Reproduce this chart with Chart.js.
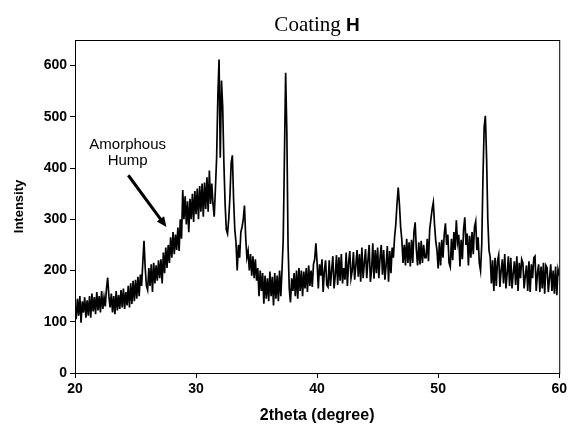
<!DOCTYPE html>
<html lang="en">
<head>
  <meta charset="UTF-8">
  <title>Coating H</title>
  <script src="https://cdn.jsdelivr.net/npm/chart.js@4.4.1/dist/chart.umd.min.js"></script>
  <style>
    body { margin: 0; background: #fff; }
    #wrap { width: 570px; height: 431px; }
  </style>
</head>
<body>
<div id="wrap"><canvas id="myChart"></canvas></div>

<script>
    // scan settings: 2theta from 20 to 60 degrees, one reading every 0.1 degree
    const angleStart = 20;
    const angleStep = 0.1;

    // intensity, one row per degree (20.0 .. 59.9), then 60.0
    const intensity = [
      135,105,145,112,150,98,140,118,148,108,
      142,112,150,108,155,120,148,115,158,122,
      150,118,160,125,148,130,165,186,150,128,
      155,118,150,115,160,122,152,125,162,128,
      165,125,158,132,170,128,175,135,180,140,
      182,145,188,150,192,170,215,258,205,170,
      162,205,170,212,158,215,175,210,180,220,
      185,222,175,235,195,245,205,250,215,265,
      225,275,232,270,240,284,238,300,262,357,
      300,345,290,335,275,340,300,350,295,355,
      310,360,300,365,315,370,305,372,320,382,
      315,395,330,370,330,305,360,420,540,612,
      420,571,520,410,330,280,272,300,345,410,
      425,340,280,255,200,250,225,275,285,300,
      327,265,225,238,200,232,190,228,185,222,
      180,205,150,200,160,195,135,190,145,185,
      140,198,150,188,132,195,145,190,140,200,
      150,200,260,420,586,470,250,165,138,185,
      160,195,150,200,145,205,160,200,150,198,
      165,205,158,210,170,200,168,212,222,253,
      215,165,212,190,222,158,200,220,172,168,
      220,170,200,228,165,190,230,172,226,180,
      232,175,205,182,235,170,215,238,185,200,
      236,182,210,240,188,232,178,245,185,215,
      242,185,220,250,178,200,253,184,240,195,
      245,185,225,250,192,240,182,210,248,178,
      238,195,245,225,265,290,330,362,330,285,
      260,215,250,210,262,215,255,208,260,215,
      275,294,240,210,255,212,258,215,250,225,
      225,262,218,280,300,320,333,290,258,240,
      204,255,210,260,225,270,292,250,270,215,
      207,262,220,275,240,298,255,270,208,260,
      222,280,304,250,272,210,268,225,275,232,
      285,296,240,265,215,200,250,380,480,502,
      420,300,240,226,175,220,160,225,170,218,
      230,168,200,222,175,232,165,195,228,170,
      225,165,195,218,172,228,160,215,185,222,
      215,165,190,210,160,218,158,212,185,225,
      228,160,195,212,158,208,165,215,155,210,
      205,158,185,212,160,200,155,208,152,202,
      190
    ];

    const xTicks = [20, 30, 40, 50, 60];
    const yTicks = [0, 100, 200, 300, 400, 500, 600];

    // note on the plot, placed in data units
    const noteLines = ['Amorphous', 'Hump'];
    const noteAt = {x: 24.35, y: 446};
    const arrowFrom = {x: 24.4, y: 386};
    const arrowTo = {x: 27.55, y: 285};

    const points = intensity.map((v, i) => ({x: +(angleStart + i * angleStep).toFixed(1), y: v}));

    const frame_and_notes = {
        id: 'frame_and_notes',
        afterDraw: (chart) => {
            const ctx = chart.ctx;
            const a = chart.chartArea;
            const xs = chart.scales.x, ys = chart.scales.y;
            ctx.save();
            // box round the plot
            ctx.strokeStyle = '#000';
            ctx.lineWidth = 1;
            ctx.strokeRect(a.left + 0.5, a.top + 0.5, a.right - a.left, a.bottom - a.top);

            // title: serif "Coating" + bold sans "H"
            const cx = (a.left + a.right) / 2;
            ctx.fillStyle = '#000';
            ctx.textBaseline = 'alphabetic';
            ctx.font = '21px "Liberation Serif", "Times New Roman", serif';
            const w1 = ctx.measureText('Coating ').width;
            ctx.font = 'bold 19px "Liberation Sans", Arial, sans-serif';
            const w2 = ctx.measureText('H').width;
            let tx = cx - (w1 + w2) / 2;
            ctx.textAlign = 'left';
            ctx.font = '21px "Liberation Serif", "Times New Roman", serif';
            ctx.fillText('Coating ', tx, 31);
            ctx.font = 'bold 19px "Liberation Sans", Arial, sans-serif';
            ctx.fillText('H', tx + w1, 31);

            // annotation
            ctx.font = '15px "Liberation Sans", Arial, sans-serif';
            ctx.textAlign = 'center';
            ctx.textBaseline = 'middle';
            const nx = xs.getPixelForValue(noteAt.x);
            const ny = ys.getPixelForValue(noteAt.y);
            noteLines.forEach((t, i) => ctx.fillText(t, nx, ny + i * 16));

            // arrow
            const x0 = xs.getPixelForValue(arrowFrom.x), y0 = ys.getPixelForValue(arrowFrom.y);
            const x1 = xs.getPixelForValue(arrowTo.x), y1 = ys.getPixelForValue(arrowTo.y);
            const ang = Math.atan2(y1 - y0, x1 - x0);
            const head = 10;
            ctx.lineWidth = 3;
            ctx.beginPath();
            ctx.moveTo(x0, y0);
            ctx.lineTo(x1 - head * 0.8 * Math.cos(ang), y1 - head * 0.8 * Math.sin(ang));
            ctx.stroke();
            ctx.beginPath();
            ctx.moveTo(x1, y1);
            ctx.lineTo(x1 - head * Math.cos(ang) + 4.5 * Math.sin(ang), y1 - head * Math.sin(ang) - 4.5 * Math.cos(ang));
            ctx.lineTo(x1 - head * Math.cos(ang) - 4.5 * Math.sin(ang), y1 - head * Math.sin(ang) + 4.5 * Math.cos(ang));
            ctx.closePath();
            ctx.fill();
            ctx.restore();
        }
    };

    Chart.defaults.font.family = '"Liberation Sans", Arial, sans-serif';
    Chart.defaults.color = '#000';

    var ctx = document.getElementById('myChart');
    var myChart = new Chart(ctx, {
        type: 'line',
        data: {
          datasets: [{
            label: 'Coating H',
            data: points,
            borderColor: '#000',
            borderWidth: 1.7,
            pointRadius: 0,
            tension: 0,
            fill: false
          }]
        },
        options: {
          responsive: true,
          maintainAspectRatio: false,
          animation: false,
          layout: {padding: {top: 40, right: 9, left: 0, bottom: 0}},
          scales: {
            x: {
              type: 'linear',
              min: 20,
              max: 60,
              afterBuildTicks: (axis) => { axis.ticks = xTicks.map(v => ({value: v})); },
              afterFit: (axis) => { axis.height = 58; },
              ticks: {font: {size: 14, weight: 'bold'}, padding: 3, maxRotation: 0},
              grid: {drawOnChartArea: false, color: '#000', tickLength: 5},
              border: {color: '#000', width: 1},
              title: {
                display: true,
                text: '2theta (degree)',
                font: {size: 16, weight: 'bold'},
                padding: {top: 0, bottom: 6}
              }
            },
            y: {
              min: 0,
              max: 650,
              afterBuildTicks: (axis) => { axis.ticks = yTicks.map(v => ({value: v})); },
              afterFit: (axis) => { axis.width = 75; },
              ticks: {font: {size: 14, weight: 'bold'}, padding: 3},
              grid: {drawOnChartArea: false, color: '#000', tickLength: 5},
              border: {color: '#000', width: 1},
              title: {
                display: true,
                text: 'Intensity',
                font: {size: 13, weight: 'bold'},
                padding: {top: 12, bottom: 0}
              }
            }
          },
          plugins: {
            legend: {display: false},
            title: {display: false},
            tooltip: {enabled: false}
          }
        },
        plugins: [frame_and_notes]
      });
</script>
</body>
</html>
